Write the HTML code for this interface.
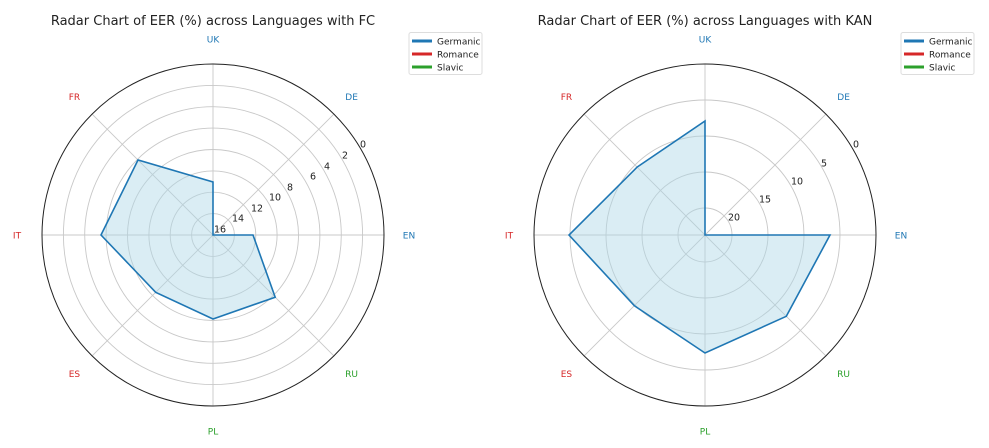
<!DOCTYPE html>
<html><head><meta charset="utf-8"><style>
body{margin:0;background:#fff}
svg{display:block;font-family:"DejaVu Sans","Liberation Sans",sans-serif}
</style></head><body>
<svg id="s" width="989" height="448" viewBox="0 0 989 448" xmlns="http://www.w3.org/2000/svg"></svg>
<script>
const s=document.getElementById('s');let h='';
const B='#1f77b4',R='#d62728',G='#2ca02c';
const labs=[['UK',B],['DE',B],['EN',B],['RU',G],['PL',G],['ES',R],['IT',R],['FR',R]];
function chart(cx,cy,title,grid,ticks,data){
 h+=`<text x="${cx}" y="25" font-size="13" text-anchor="middle" fill="#222">${title}</text>`;
 grid.forEach(r=>h+=`<circle cx="${cx}" cy="${cy}" r="${r}" fill="none" stroke="#c8c8c8" stroke-width="0.9"/>`);
 for(let i=0;i<8;i++){const a=Math.PI/2-i*Math.PI/4;
  h+=`<line x1="${cx}" y1="${cy}" x2="${cx+171*Math.cos(a)}" y2="${cy-171*Math.sin(a)}" stroke="#c8c8c8" stroke-width="0.9"/>`;
  const lx=cx+196*Math.cos(a),ly=cy-196*Math.sin(a);
  h+=`<text x="${lx}" y="${ly+3.5}" font-size="9" text-anchor="middle" fill="${labs[i][1]}">${labs[i][0]}</text>`;}
 let pts=data.map((r,i)=>{const a=Math.PI/2-i*Math.PI/4;return (cx+r*Math.cos(a)).toFixed(1)+','+(cy-r*Math.sin(a)).toFixed(1)}).join(' ');
 h+=`<polygon points="${pts}" fill="#add8e6" fill-opacity="0.45" stroke="${B}" stroke-width="1.6" stroke-linejoin="miter"/>`;
 h+=`<circle cx="${cx}" cy="${cy}" r="171" fill="none" stroke="#222" stroke-width="1"/>`;
 ticks.forEach(([t,dx,dy])=>h+=`<text x="${cx+dx}" y="${cy+dy+3.5}" font-size="9.5" text-anchor="middle" fill="#222">${t}</text>`);
 const lx=cx+196;
 h+=`<rect x="${lx}" y="32.5" width="73" height="42" rx="2" fill="#fff" stroke="#ddd"/>`;
 [['Germanic',B],['Romance',R],['Slavic',G]].forEach(([n,c],k)=>{const y=41+k*13;
  h+=`<line x1="${lx+3}" y1="${y}" x2="${lx+23}" y2="${y}" stroke="${c}" stroke-width="3"/><text x="${lx+28}" y="${y+3.5}" font-size="9" fill="#222">${n}</text>`;});
}
const g1=[21.4,42.8,64.1,85.5,106.9,128.3,149.6];
chart(213,235,'Radar Chart of EER (%) across Languages with FC',g1,
 [['16',7,-6],['14',25,-17],['12',44,-27],['10',62,-38],['8',77,-48],['6',100,-59],['4',114,-69],['2',132,-80],['0',150,-91]],
 [53,0,40,88,84,81,112,106]);
chart(705,235,'Radar Chart of EER (%) across Languages with KAN',[27,63,99,135],
 [['20',29,-18],['15',60,-36],['10',92,-54],['5',119,-72],['0',151,-91]],
 [114,0,125,115,118,100,136,96]);
s.innerHTML=h;
</script>
</body></html>
